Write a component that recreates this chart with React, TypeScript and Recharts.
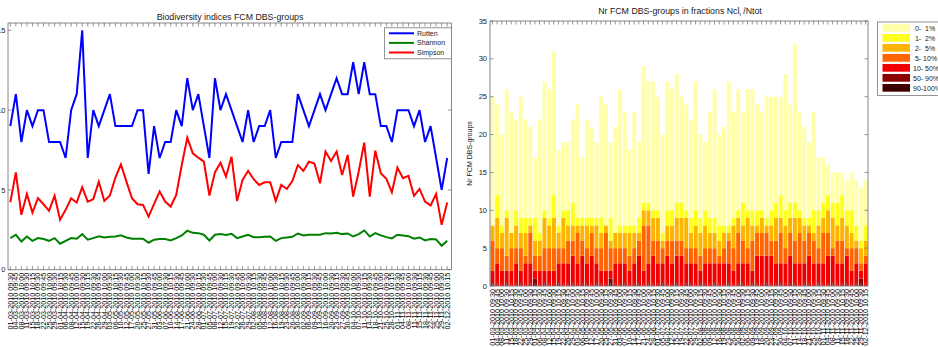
import React from 'react';
import { LineChart, Line, XAxis, YAxis, BarChart, Bar, ReferenceArea } from 'recharts';

const FONT = '"Liberation Sans", Arial, Helvetica, sans-serif';

const sampleLabels = [
  '01-03-2010 09:30', '04-03-2010 09:45', '08-03-2010 10:00', '11-03-2010 09:30', '15-03-2010 10:15',
  '18-03-2010 09:30', '22-03-2010 09:45', '25-03-2010 10:00', '29-03-2010 09:30', '01-04-2010 10:15',
  '06-04-2010 09:30', '08-04-2010 09:45', '12-04-2010 10:00', '15-04-2010 09:30', '19-04-2010 10:15',
  '22-04-2010 09:30', '26-04-2010 09:45', '29-04-2010 10:00', '03-05-2010 09:30', '06-05-2010 10:15',
  '10-05-2010 09:30', '12-05-2010 09:45', '17-05-2010 10:00', '20-05-2010 09:30', '25-05-2010 10:15',
  '27-05-2010 09:30', '31-05-2010 09:45', '03-06-2010 10:00', '07-06-2010 09:30', '10-06-2010 10:15',
  '14-06-2010 09:30', '17-06-2010 09:45', '21-06-2010 10:00', '24-06-2010 09:30', '28-06-2010 10:15',
  '01-07-2010 09:30', '05-07-2010 09:45', '08-07-2010 10:00', '12-07-2010 09:30', '15-07-2010 10:15',
  '19-07-2010 09:30', '22-07-2010 09:45', '26-07-2010 10:00', '29-07-2010 09:30', '02-08-2010 10:15',
  '05-08-2010 09:30', '09-08-2010 09:45', '12-08-2010 10:00', '16-08-2010 09:30', '19-08-2010 10:15',
  '23-08-2010 09:30', '26-08-2010 09:45', '30-08-2010 10:00', '02-09-2010 09:30', '06-09-2010 10:15',
  '09-09-2010 09:30', '13-09-2010 09:45', '16-09-2010 10:00', '20-09-2010 09:30', '23-09-2010 10:15',
  '27-09-2010 09:30', '30-09-2010 09:45', '04-10-2010 10:00', '07-10-2010 09:30', '11-10-2010 10:15',
  '14-10-2010 09:30', '18-10-2010 09:45', '21-10-2010 10:00', '25-10-2010 09:30', '28-10-2010 10:15',
  '01-11-2010 09:30', '04-11-2010 09:45', '08-11-2010 10:00', '11-11-2010 09:30', '15-11-2010 10:15',
  '18-11-2010 09:30', '22-11-2010 09:45', '25-11-2010 10:00', '29-11-2010 09:30', '02-12-2010 10:15',
];

const rutten = [
  9, 11, 8, 10, 9, 10, 10, 8, 8, 8,
  7, 10, 11, 15, 7, 10, 9, 10, 11, 9,
  9, 9, 9, 10, 10, 6, 9, 7, 8, 8,
  10, 9, 12, 10, 11, 9, 7, 12, 10, 11,
  10, 9, 8, 10, 8, 9, 9, 10, 7, 8,
  8, 8, 11, 10, 9, 10, 11, 10, 11, 12,
  11, 11, 13, 11, 13, 11, 11, 9, 9, 8,
  10, 10, 10, 9, 10, 8, 9, 7, 5, 7,
];

const shannon = [
  1.98, 2.19, 1.77, 2.08, 1.81, 1.98, 1.92, 1.81, 1.98, 1.63,
  1.81, 1.98, 1.94, 2.23, 1.88, 1.98, 2.1, 2.02, 2.06, 2.08,
  2.15, 2.02, 1.94, 1.94, 1.94, 1.69, 1.88, 1.92, 1.92, 1.83,
  1.98, 2.15, 2.44, 2.31, 2.29, 2.19, 1.83, 2.19, 2.23, 2.17,
  2.25, 1.98, 2.08, 2.19, 2.04, 2.04, 2.06, 2.08, 1.81, 1.98,
  2.02, 2.06, 2.27, 2.15, 2.19, 2.19, 2.19, 2.29, 2.27, 2.31,
  2.23, 2.27, 2.08, 2.23, 2.46, 2.08, 2.29, 2.15, 2.04, 1.96,
  2.19, 2.15, 2.1, 1.94, 2.02, 1.83, 1.92, 1.9, 1.5, 1.81,
];

const simpson = [
  4.23, 6.1, 3.44, 4.75, 3.58, 4.48, 4.1, 3.69, 4.63, 3.13,
  3.75, 4.48, 4.2, 5.17, 4.27, 4.42, 5.52, 4.31, 4.65, 5.77,
  6.6, 5.52, 4.48, 4.1, 4.06, 3.33, 4.13, 4.9, 4.27, 3.96,
  4.69, 6.56, 8.27, 7.29, 7.02, 6.77, 4.65, 6.1, 6.7, 5.83,
  7.08, 4.31, 5.63, 6.2, 5.67, 5.31, 5.48, 5.48, 4.31, 5.31,
  5.06, 5.56, 6.56, 6.19, 6.77, 6.65, 5.42, 7.4, 6.81, 7.4,
  5.94, 7.19, 4.58, 6.15, 7.96, 4.58, 7.46, 6.04, 5.69, 4.85,
  6.4, 5.73, 5.88, 4.63, 5.06, 4.27, 4.02, 4.75, 2.81, 4.21,
];

// number of DBS-groups per fraction class (stacked bars)
const frac0to1 = [
  17, 12, 12, 16, 16, 12, 16, 13, 12, 8,
  15, 17, 17, 19, 10, 9, 9, 11, 15, 8,
  13, 12, 10, 16, 16, 10, 14, 18, 15, 10,
  15, 10, 18, 16, 17, 15, 13, 17, 16, 17,
  14, 14, 13, 17, 11, 9, 14, 17, 12, 13,
  19, 14, 16, 12, 16, 16, 14, 13, 16, 15,
  14, 13, 18, 13, 21, 13, 12, 10, 13, 7,
  6, 4, 4, 4, 3, 4, 5, 6, 7, 6,
];
const frac1to2 = [
  0, 3, 1, 1, 0, 2, 2, 2, 1, 3,
  1, 1, 1, 3, 1, 1, 2, 3, 1, 1,
  1, 1, 1, 2, 0, 3, 0, 1, 1, 1,
  1, 2, 1, 1, 1, 1, 1, 2, 2, 2,
  2, 1, 2, 2, 2, 2, 2, 2, 2, 1,
  1, 1, 1, 3, 1, 2, 2, 1, 1, 2,
  2, 3, 2, 2, 2, 1, 1, 1, 3, 2,
  2, 2, 2, 3, 3, 2, 3, 2, 1, 2,
];
const frac2to5 = [
  2, 4, 2, 5, 2, 3, 2, 3, 1, 2,
  2, 4, 3, 4, 2, 4, 2, 2, 1, 2,
  3, 1, 3, 2, 1, 1, 2, 2, 2, 3,
  2, 1, 2, 2, 3, 3, 1, 2, 2, 3,
  3, 4, 2, 3, 3, 3, 2, 2, 2, 2,
  1, 3, 2, 2, 4, 2, 1, 2, 1, 2,
  3, 2, 3, 2, 3, 2, 2, 1, 1, 3,
  2, 3, 4, 2, 3, 3, 2, 1, 2, 2,
];
const frac5to10 = [
  4, 2, 3, 2, 3, 2, 3, 1, 4, 2,
  2, 3, 3, 3, 2, 2, 3, 2, 4, 2,
  2, 3, 2, 3, 5, 3, 2, 2, 2, 2,
  2, 2, 6, 5, 2, 3, 2, 2, 3, 2,
  2, 2, 2, 2, 2, 2, 2, 2, 1, 2,
  3, 3, 4, 3, 2, 4, 3, 3, 3, 2,
  3, 4, 2, 3, 3, 4, 3, 3, 3, 2,
  4, 3, 1, 3, 3, 1, 3, 2, 1, 1,
];
const frac10to50 = [
  2, 3, 2, 2, 2, 3, 2, 3, 3, 1,
  2, 2, 2, 2, 3, 3, 3, 4, 3, 4,
  3, 4, 3, 2, 2, 1, 3, 3, 3, 2,
  3, 4, 2, 3, 4, 3, 3, 4, 3, 4,
  4, 3, 3, 3, 2, 3, 3, 3, 3, 3,
  3, 2, 3, 3, 3, 2, 4, 4, 4, 4,
  3, 3, 3, 4, 3, 3, 3, 4, 3, 3,
  3, 4, 4, 3, 3, 4, 2, 3, 1, 3,
];
const frac50to90 = [
  0, 0, 0, 0, 0, 0, 0, 0, 0, 1,
  0, 0, 0, 0, 0, 0, 0, 0, 0, 0,
  0, 0, 0, 0, 0, 1, 0, 0, 0, 0,
  0, 0, 0, 0, 0, 0, 0, 0, 0, 0,
  0, 0, 0, 0, 0, 0, 0, 0, 0, 0,
  0, 0, 0, 0, 0, 0, 0, 0, 0, 0,
  0, 0, 0, 0, 0, 0, 0, 0, 0, 0,
  0, 0, 0, 0, 0, 0, 0, 0, 1, 0,
];
const frac90to100 = [
  0, 0, 0, 0, 0, 0, 0, 0, 0, 0,
  0, 0, 0, 0, 0, 0, 0, 0, 0, 0,
  0, 0, 0, 0, 0, 0, 0, 0, 0, 0,
  0, 0, 0, 0, 0, 0, 0, 0, 0, 0,
  0, 0, 0, 0, 0, 0, 0, 0, 0, 0,
  0, 0, 0, 0, 0, 0, 0, 0, 0, 0,
  0, 0, 0, 0, 0, 0, 0, 0, 0, 0,
  0, 0, 0, 0, 0, 0, 0, 0, 0, 0,
];

const indexTicks = [0, 5, 10, 15];
const countTicks = [0, 5, 10, 15, 20, 25, 30, 35];

const lineSeries = [
  { key: 'rutten', name: 'Rutten', color: '#0000ff' },
  { key: 'shannon', name: 'Shannon', color: '#008000' },
  { key: 'simpson', name: 'Simpson', color: '#ff0000' },
];

const barSeries = [
  { key: 'f90', name: '90-100%', color: '#3c0000' },
  { key: 'f50', name: '50- 90%', color: '#8c0000' },
  { key: 'f10', name: '10- 50%', color: '#f20000' },
  { key: 'f5', name: ' 5- 10%', color: '#ff6400' },
  { key: 'f2', name: ' 2-  5%', color: '#ffb400' },
  { key: 'f1', name: ' 1-  2%', color: '#ffff1e' },
  { key: 'f0', name: ' 0-  1%', color: '#ffffaa' },
];

const lineData = sampleLabels.map((label, i) => ({
  i,
  label,
  rutten: rutten[i],
  shannon: shannon[i],
  simpson: simpson[i],
}));

const barData = sampleLabels.map((label, i) => ({
  label,
  f90: frac90to100[i],
  f50: frac50to90[i],
  f10: frac10to50[i],
  f5: frac5to10[i],
  f2: frac2to5[i],
  f1: frac1to2[i],
  f0: frac0to1[i],
}));

// geometry
const L_W = 460;
const L_PLOT_W = 443.5;
const L_PLOT_H = 246.7;
const R_W = 420;
const R_PLOT_W = 378;
const R_PLOT_H = 265;
const TICK = 3.5;
const AX = '#7a7a7a';
const TXT = '#1a1a1a';

const makeYTick = (plotW: number, labelOffset: number) => (props: any) => {
  const { x, y, payload } = props;
  return (
    <g>
      <text x={x - labelOffset} y={y + 2.6} textAnchor="end" fontSize={7.5} fill={TXT} fontFamily={FONT}>
        {payload.value}
      </text>
      <line x1={x} x2={x + TICK} y1={y} y2={y} stroke={AX} strokeWidth={0.8} />
      <line x1={x + plotW - TICK} x2={x + plotW} y1={y} y2={y} stroke={AX} strokeWidth={0.8} />
    </g>
  );
};

const makeXTick = (plotH: number, getLabel: (v: any) => string) => (props: any) => {
  const { x, y, payload } = props;
  return (
    <g>
      <line x1={x} x2={x} y1={y} y2={y - TICK} stroke={AX} strokeWidth={0.8} />
      <line x1={x} x2={x} y1={y - plotH} y2={y - plotH + TICK} stroke={AX} strokeWidth={0.8} />
      <text
        transform={`translate(${x + 2.5},${y + 3}) rotate(-90)`}
        textAnchor="end"
        fontSize={7.2}
        fill="#000000"
        fontFamily={FONT}
      >
        {getLabel(payload.value)}
      </text>
    </g>
  );
};

const LeftYTick = makeYTick(L_PLOT_W, 2.5);
const RightYTick = makeYTick(R_PLOT_W, 3);
const LeftXTick = makeXTick(L_PLOT_H, (v) => sampleLabels[v] ?? '');
const RightXTick = makeXTick(R_PLOT_H, (v) => String(v));

export default function App() {
  return (
    <div
      style={{
        position: 'absolute',
        left: 0,
        top: 0,
        width: 938,
        height: 347,
        overflow: 'hidden',
        background: '#ffffff',
        fontFamily: FONT,
      }}
    >
      <div style={{ position: 'absolute', left: 0, top: 0 }}>
        <LineChart
          width={L_W}
          height={347}
          data={lineData}
          margin={{ top: 23, right: 8.5, bottom: 0, left: 0 }}
        >
          <XAxis
            type="number"
            dataKey="i"
            domain={[-0.42, 79.78]}
            ticks={lineData.map((d) => d.i)}
            interval={0}
            tickSize={0}
            tickMargin={0}
            axisLine={false}
            tick={LeftXTick}
            height={77.3}
            allowDataOverflow
          />
          <YAxis
            type="number"
            domain={[0, 15.46]}
            ticks={indexTicks}
            interval={0}
            tickSize={0}
            tickMargin={0}
            axisLine={false}
            tick={LeftYTick}
            width={8}
            allowDataOverflow
          />
          <ReferenceArea x1={-0.42} x2={79.78} y1={0} y2={15.46} fill="none" stroke={AX} strokeWidth={0.9} />
          {lineSeries.map((s) => (
            <Line
              key={s.key}
              type="linear"
              dataKey={s.key}
              name={s.name}
              stroke={s.color}
              strokeWidth={2}
              dot={false}
              isAnimationActive={false}
            />
          ))}
        </LineChart>
      </div>

      <div style={{ position: 'absolute', left: 460, top: 0 }}>
        <BarChart
          width={R_W}
          height={347}
          data={barData}
          margin={{ top: 21, right: 12, bottom: 0, left: 0 }}
          barCategoryGap={0.5}
        >
          <XAxis
            type="category"
            dataKey="label"
            interval={0}
            tickSize={0}
            tickMargin={0}
            axisLine={false}
            tick={RightXTick}
            height={61}
          />
          <YAxis
            type="number"
            domain={[0, 35]}
            ticks={countTicks}
            interval={0}
            tickSize={0}
            tickMargin={0}
            axisLine={false}
            tick={RightYTick}
            width={30}
            allowDataOverflow
          />
          {barSeries.map((s) => (
            <Bar key={s.key} dataKey={s.key} name={s.name} stackId="fr" fill={s.color} isAnimationActive={false} />
          ))}
        </BarChart>
      </div>

      <svg
        width={938}
        height={347}
        style={{ position: 'absolute', left: 0, top: 0, pointerEvents: 'none' }}
        fontFamily={FONT}
      >
        {/* right axes box */}
        <rect x={490} y={21} width={R_PLOT_W} height={R_PLOT_H} fill="none" stroke={AX} strokeWidth={0.9} />

        {/* titles */}
        <text x={230} y={19.5} textAnchor="middle" fontSize={8.8} fill={TXT}>
          Biodiversity indices FCM DBS-groups
        </text>
        <text x={680} y={14} textAnchor="middle" fontSize={8.8} fill={TXT}>
          Nr FCM DBS-groups in fractions Ncl
          <tspan fontSize={6} dy={2}>i</tspan>
          <tspan dy={-2}> /Ntot</tspan>
        </text>
        <text
          transform="translate(471.5,153.5) rotate(-90)"
          textAnchor="middle"
          fontSize={7}
          fill={TXT}
        >
          Nr FCM DBS-groups
        </text>

        {/* left legend */}
        <rect x={384.5} y={27.8} width={67} height={31} fill="#ffffff" stroke={AX} strokeWidth={0.8} />
        {lineSeries.map((s, k) => (
          <g key={s.key}>
            <line x1={389} x2={414} y1={33.3 + k * 9.6} y2={33.3 + k * 9.6} stroke={s.color} strokeWidth={2} />
            <text x={417} y={35.8 + k * 9.6} fontSize={7} fill={TXT}>
              {s.name}
            </text>
          </g>
        ))}

        {/* right legend */}
        <rect x={877.5} y={22} width={80} height={73.5} fill="#ffffff" stroke={AX} strokeWidth={0.8} />
        {barSeries
          .slice()
          .reverse()
          .map((s, k) => (
            <g key={s.key}>
              <rect x={882.5} y={24 + k * 10} width={27.5} height={7.7} fill={s.color} />
              <text x={913} y={30.5 + k * 10} fontSize={7} fill={TXT} style={{ whiteSpace: 'pre' }}>
                {s.name}
              </text>
            </g>
          ))}
      </svg>
    </div>
  );
}
